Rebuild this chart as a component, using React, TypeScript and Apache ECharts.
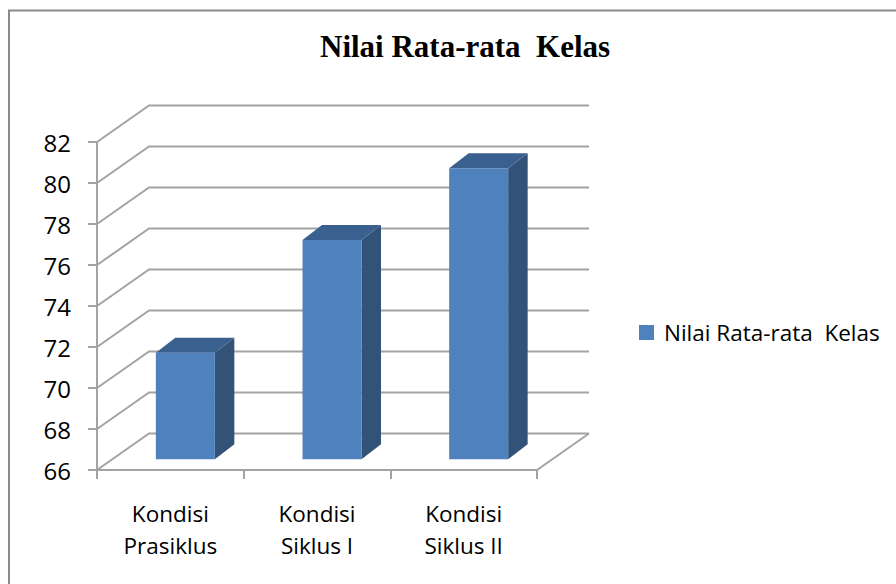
import React, { useEffect, useRef } from "react";
import * as echarts from "echarts";

const titleText = "Nilai Rata-rata  Kelas";
const seriesName = "Nilai Rata-rata  Kelas";
const categories = ["Kondisi\nPrasiklus", "Kondisi\nSiklus I", "Kondisi\nSiklus II"];
const values = [71.2, 76.7, 80.2];
const gridTicks = [66, 68, 70, 72, 74, 76, 78, 80, 82];

const WALL_DX = 52;
const WALL_DY = 36.5;
const BAR_DX = 15;
const BAR_DY = 10.7;
const BAR_W = 59;
const BAR_DEPTH_X = 19.5;
const BAR_DEPTH_Y = 15;
const GRID_COLOR = "#a3a3a3";

function renderWall(params: any, api: any) {
  const v = api.value(0);
  const cs = params.coordSys;
  const y = api.coord([0, v])[1];
  const x0 = cs.x;
  const x1 = cs.x + cs.width;
  const children: any[] = [
    {
      type: "polyline",
      shape: { points: [[x0, y], [x0 + WALL_DX, y - WALL_DY], [x1 + WALL_DX, y - WALL_DY]] },
      style: { fill: "none", stroke: GRID_COLOR, lineWidth: 2 },
    },
  ];
  if (v === gridTicks[0]) {
    children.push({
      type: "line",
      shape: { x1, y1: y, x2: x1 + WALL_DX, y2: y - WALL_DY },
      style: { stroke: GRID_COLOR, lineWidth: 2 },
    });
  }
  return { type: "group", children };
}

function renderBar(params: any, api: any) {
  const cat = api.value(0);
  const val = api.value(1);
  const cx = api.coord([cat, val])[0];
  const top = api.coord([cat, val])[1] - BAR_DY;
  const bottom = api.coord([cat, gridTicks[0]])[1] - BAR_DY;
  const l = cx - BAR_W / 2 + BAR_DX;
  const r = l + BAR_W;
  const dx = BAR_DEPTH_X;
  const dy = BAR_DEPTH_Y;
  return {
    type: "group",
    children: [
      {
        type: "polygon",
        shape: { points: [[r, top], [r + dx, top - dy], [r + dx, bottom - dy], [r, bottom]] },
        style: { fill: "#325278" },
      },
      {
        type: "polygon",
        shape: { points: [[l, top], [l + dx, top - dy], [r + dx, top - dy], [r, top]] },
        style: { fill: "#3a6090" },
      },
      {
        type: "rect",
        shape: { x: l, y: top, width: BAR_W, height: bottom - top },
        style: { fill: "#4f81bd" },
      },
    ],
  };
}

export default function App() {
  const ref = useRef<HTMLDivElement>(null);
  useEffect(() => {
    const chart = echarts.init(ref.current!, undefined, { renderer: "svg" });
    chart.setOption({
      animation: false,
      backgroundColor: "#ffffff",
      title: {
        text: titleText,
        left: 315,
        top: 26,
        textStyle: {
          fontFamily: "Liberation Serif",
          fontWeight: "bold",
          fontSize: 31,
          color: "#000000",
        },
      },
      legend: {
        data: [seriesName],
        left: 634,
        top: 316,
        icon: "rect",
        itemWidth: 15,
        itemHeight: 15,
        itemGap: 0,
        selectedMode: false,
        textStyle: { fontFamily: "Open Sans", fontSize: 22.5, color: "#000000", padding: [0, 0, 0, 5] },
      },
      grid: { left: 97, top: 142, width: 440, height: 328 },
      xAxis: {
        type: "category",
        data: categories,
        axisLine: { lineStyle: { color: GRID_COLOR, width: 2 } },
        axisTick: { show: true, alignWithLabel: false, length: 9, lineStyle: { color: GRID_COLOR, width: 2 } },
        axisLabel: {
          fontFamily: "Open Sans",
          fontSize: 22.5,
          color: "#000000",
          lineHeight: 32,
          margin: 27,
          interval: 0,
        },
        splitLine: { show: false },
      },
      yAxis: {
        type: "value",
        min: 66,
        max: 82,
        interval: 2,
        axisLine: { show: true, lineStyle: { color: GRID_COLOR, width: 2 } },
        axisTick: { show: true, length: 9, lineStyle: { color: GRID_COLOR, width: 2 } },
        axisLabel: { fontFamily: "Open Sans", fontSize: 24, color: "#000000", margin: 26, padding: [3, 0, 0, 0] },
        splitLine: { show: false },
      },
      graphic: [
        {
          type: "polyline",
          silent: true,
          shape: { points: [[9, 584], [9, 10.5], [896, 10.5]] },
          style: { fill: "none", stroke: "#8a8a8a", lineWidth: 2 },
        },
      ],
      series: [
        {
          type: "custom",
          name: "walls",
          coordinateSystem: "cartesian2d",
          renderItem: renderWall,
          data: gridTicks.map((t) => [t]),
          encode: { y: 0 },
          silent: true,
          z: 1,
        },
        {
          type: "custom",
          name: seriesName,
          coordinateSystem: "cartesian2d",
          renderItem: renderBar,
          data: values.map((v, i) => [i, v]),
          encode: { x: 0, y: 1 },
          itemStyle: { color: "#4f81bd" },
          z: 3,
        },
      ],
    });
    return () => chart.dispose();
  }, []);
  return <div ref={ref} style={{ position: "fixed", left: 0, top: 0, width: 896, height: 584 }} />;
}
